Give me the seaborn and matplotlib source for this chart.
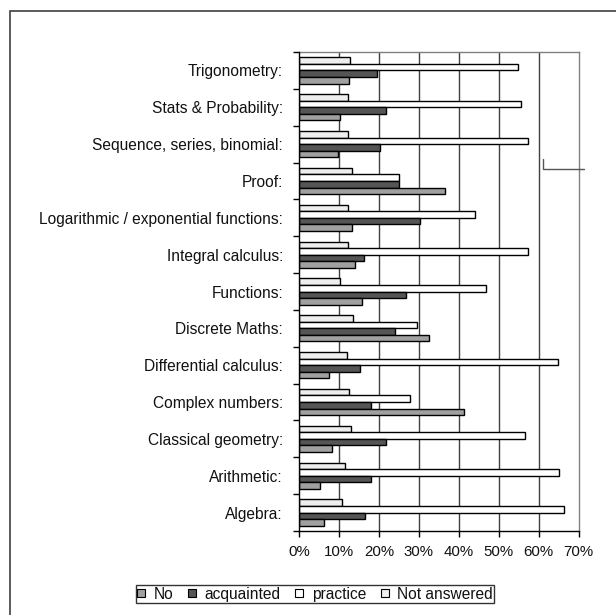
import matplotlib
matplotlib.use("Agg")
import matplotlib.pyplot as plt
import seaborn as sns
import pandas as pd
import numpy as np
from matplotlib.patches import Rectangle
from matplotlib.lines import Line2D
from matplotlib.ticker import PercentFormatter, FixedLocator

categories = ["Trigonometry:", "Stats & Probability:", "Sequence, series, binomial:",
              "Proof:", "Logarithmic / exponential functions:", "Integral calculus:",
              "Functions:", "Discrete Maths:", "Differential calculus:",
              "Complex numbers:", "Classical geometry:", "Arithmetic:", "Algebra:"]
no_vals = [12.5, 10.2, 9.8, 36.6, 13.2, 14.0, 15.7, 32.6, 7.5, 41.3, 8.2, 5.2, 6.2]
acquainted_vals = [19.6, 21.8, 20.2, 25.0, 30.2, 16.2, 26.7, 24.0, 15.2, 18.0, 21.8, 18.0, 16.5]
practice_vals = [54.8, 55.6, 57.3, 25.0, 44.1, 57.3, 46.8, 29.6, 64.9, 27.8, 56.7, 65.1, 66.3]
not_answered_vals = [12.7, 12.3, 12.3, 13.2, 12.3, 12.3, 10.2, 13.6, 12.1, 12.6, 13.1, 11.6, 10.8]
series_names = ["No", "acquainted", "practice", "Not answered"]
x_ticks = [0, 10, 20, 30, 40, 50, 60, 70]

colors = {"No": "#a0a0a0", "acquainted": "#555555", "practice": "#ffffff", "Not answered": "#eeeeee"}

rows = []
for name, vals in zip(series_names, [no_vals, acquainted_vals, practice_vals, not_answered_vals]):
    for c, v in zip(categories, vals):
        rows.append({"category": c, "series": name, "value": v / 100.0})
df = pd.DataFrame(rows)

sns.set_theme(style="white")
plt.rcParams["font.family"] = ["Liberation Sans", "DejaVu Sans"]
fs = 11.2

fig = plt.figure(figsize=(6.16, 6.15), dpi=100)
ax = fig.add_axes([299/616, 1 - 531/615, (578.5 - 299)/616, (531 - 52)/615])

hue_order = ["Not answered", "practice", "acquainted", "No"]
sns.barplot(data=df, y="category", x="value", hue="series", order=categories,
            hue_order=hue_order, palette=colors, orient="h", width=0.71, gap=0,
            edgecolor="black", linewidth=1.0, ax=ax, legend=False, errorbar=None,
            saturation=1, zorder=3)

ax.set_xlim(0, 0.70)
ax.set_ylim(len(categories) - 0.5, -0.5)
ax.xaxis.set_major_locator(FixedLocator([t / 100 for t in x_ticks]))
ax.xaxis.set_major_formatter(PercentFormatter(1.0, decimals=0))
ax.set_xlabel("")
ax.set_ylabel("")
for t in x_ticks[1:-1]:
    ax.axvline(t / 100, color="#404040", lw=1.0, zorder=1)

ax.tick_params(axis="x", bottom=True, length=4, width=1, color="black", pad=6, labelsize=10.8, labelcolor="#111111")
ax.tick_params(axis="y", which="major", left=False, length=0, pad=11.5, labelsize=fs, labelcolor="#111111")
ax.yaxis.set_minor_locator(FixedLocator(np.arange(-0.5, len(categories), 1.0)))
ax.tick_params(axis="y", which="minor", left=True, length=4, width=1, color="black")

for s in ["left", "bottom"]:
    ax.spines[s].set_color("black")
    ax.spines[s].set_linewidth(1.0)
for s in ["top", "right"]:
    ax.spines[s].set_color("#808080")
    ax.spines[s].set_linewidth(1.0)
ax.spines["left"].set_zorder(5)

# outer chart frame
fig.add_artist(Rectangle((10/616, -0.05), 1.2, 1 - 11/615 + 0.05, transform=fig.transFigure,
                         fill=False, edgecolor="#404040", lw=1.2))
# stray line fragment
fig.add_artist(Line2D([543/616, 543/616, 584/616], [1 - 159/615, 1 - 169/615, 1 - 169/615],
                      transform=fig.transFigure, color="#555555", lw=1.0))

handles = [Line2D([], [], linestyle="", marker="s", markersize=5.3, markerfacecolor=colors[n],
                  markeredgecolor="black", markeredgewidth=0.8, label=n) for n in series_names]
leg = fig.legend(handles=handles, loc="center", bbox_to_anchor=(315/616, 1 - 594/615), ncol=4,
                 frameon=True, fancybox=False, edgecolor="black", fontsize=fs,
                 handlelength=0.5, handleheight=1.1, handletextpad=0.55, columnspacing=0.95,
                 borderpad=0.08, borderaxespad=0)
leg.get_frame().set_linewidth(1.0)
for t in leg.get_texts():
    t.set_color("#111111")

fig.savefig("out.png", dpi=100)
